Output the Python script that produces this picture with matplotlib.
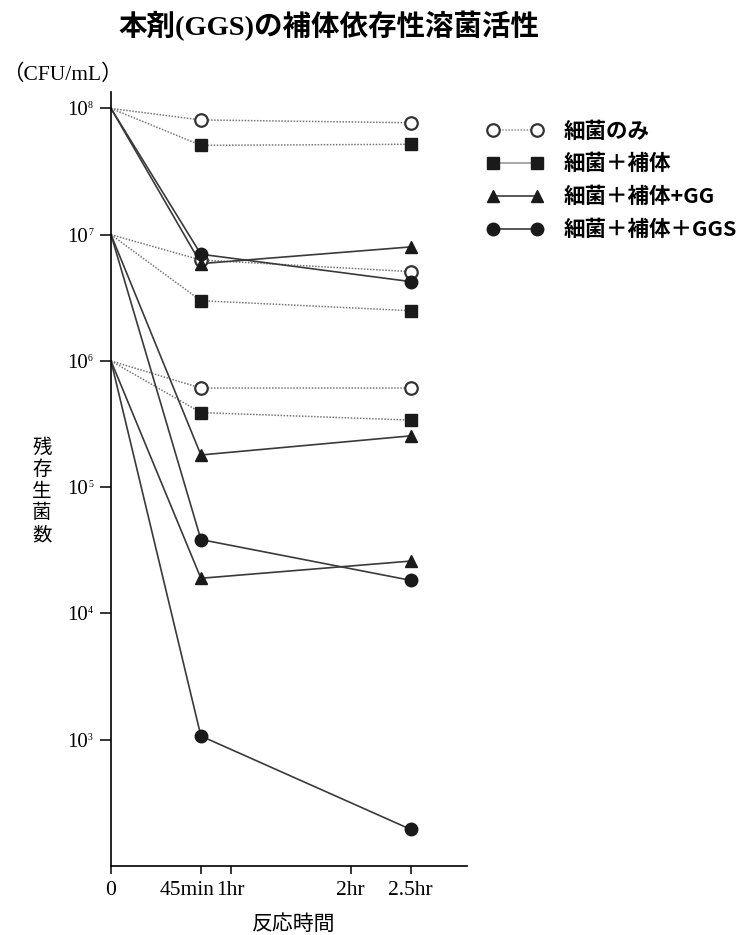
import numpy as np
import matplotlib
matplotlib.use("Agg")
import matplotlib.pyplot as plt
from matplotlib.lines import Line2D
from matplotlib.transforms import ScaledTranslation

plt.rcParams['font.family'] = ['Liberation Serif', 'Noto Sans CJK JP']

# reaction time (hr) and surviving counts (CFU/mL) for three starting inocula
times = [0, 0.75, 2.5]
start_counts = [1e8, 1e7, 1e6]
bacteria_only = [[8.1e7, 7.7e7], [6.3e6, 5.1e6], [6.1e5, 6.1e5]]
plus_complement = [[5.1e7, 5.2e7], [3.0e6, 2.5e6], [3.9e5, 3.4e5]]
plus_gg = [[5.9e6, 8.0e6], [1.8e5, 2.55e5], [1.9e4, 2.6e4]]
plus_ggs = [[7.0e6, 4.25e6], [3.85e4, 1.83e4], [1.07e3, 1.95e2]]

series_labels = ['細菌のみ', '細菌＋補体', '細菌＋補体+GG', '細菌＋補体＋GGS']
xtick_pos = [0, 0.75, 1, 2, 2.5]
xtick_labels = ['0', '45min', '1hr', '2hr', '2.5hr']
ytick_exp = [3, 4, 5, 6, 7, 8]

fig = plt.figure(figsize=(7.46, 9.35), dpi=100)
ax = fig.add_axes([111/746, 1 - 866/935, 356/746, 774/935])

styles = [
    dict(marker='o', mfc='white', mec='#333333', mew=1.6, color='#777777', ls=(0, (1, 1)), lw=1.1),
    dict(marker='s', mfc='#1a1a1a', mec='#1a1a1a', color='#777777', ls=(0, (1, 1)), lw=1.1),
    dict(marker='^', mfc='#1a1a1a', mec='#1a1a1a', color='#3a3a3a', ls='-', lw=1.2),
    dict(marker='o', mfc='#1a1a1a', mec='#1a1a1a', color='#3a3a3a', ls='-', lw=1.2),
]
all_series = [bacteria_only, plus_complement, plus_gg, plus_ggs]

for st, series in zip(styles, all_series):
    for start, vals in zip(start_counts, series):
        y = [start] + vals
        # line from the start point, markers only at 45min and 2.5hr
        ax.plot(times, y, color=st['color'], ls=st['ls'], lw=st['lw'], zorder=2)
        ax.plot(times[1:], vals, ls='none', marker=st['marker'], ms=9,
                mfc=st['mfc'], mec=st['mec'], mew=st.get('mew', 1), zorder=3)

ax.set_yscale('log')
ax.set_ylim(1e2, 10 ** 8.13)
ax.set_xlim(0, 2.97)
ax.set_yticks([10.0 ** e for e in ytick_exp])
ax.set_yticklabels(['10'] * len(ytick_exp), fontsize=15)
ax.yaxis.set_minor_locator(matplotlib.ticker.NullLocator())
for e in ytick_exp:
    ax.annotate(str(e), xy=(0, 10.0 ** e), xycoords=ax.get_yaxis_transform(),
                xytext=(-23, 7), textcoords='offset pixels', ha='left', va='top',
                fontsize=7, annotation_clip=False)
ax.set_xticks(xtick_pos)
ax.set_xticklabels(xtick_labels, fontsize=15.5)
ax.tick_params(axis='y', length=8, width=1.1, pad=8.5)
ax.tick_params(axis='x', length=6, width=1.1, pad=5)
lbl = ax.get_xticklabels()[1]
lbl.set_transform(lbl.get_transform() + ScaledTranslation(-0.14, 0, fig.dpi_scale_trans))

for s in ['top', 'right']:
    ax.spines[s].set_visible(False)
for s in ['left', 'bottom']:
    ax.spines[s].set_linewidth(1.2)

# legend
handles = [
    Line2D([], [], marker='o', mfc='white', mec='#333333', mew=1.6, ms=9, color='#909090', ls=(0, (1, 1)), lw=1.1),
    Line2D([], [], marker='s', mfc='#1a1a1a', mec='#1a1a1a', ms=9, color='#909090', ls='-', lw=1.1),
    Line2D([], [], marker='^', mfc='#1a1a1a', mec='#1a1a1a', ms=9, color='#3a3a3a', ls='-', lw=1.2),
    Line2D([], [], marker='o', mfc='#1a1a1a', mec='#1a1a1a', ms=9, color='#3a3a3a', ls='-', lw=1.2),
]
fig.legend(handles, series_labels, loc='upper left', bbox_to_anchor=(478/746, 1 - 112/935),
           frameon=False, numpoints=2, handlelength=2.65, handletextpad=0.92,
           labelspacing=0.55, borderaxespad=0,
           prop=dict(family=['Noto Sans CJK JP'], weight='bold', size=15.5))

fig.text(2/746, 1 - 75/935, '（CFU/mL）', fontsize=15.5, va='center', ha='left',
         family=['Liberation Serif', 'Noto Sans CJK JP'])
fig.text(42/746, 1 - 491/935, '残\n存\n生\n菌\n数', fontsize=14, va='center', ha='center',
         linespacing=1.05, family=['Noto Sans CJK JP'])
fig.text(294/746, 1 - 924/935, '反応時間', fontsize=15, va='center', ha='center',
         family=['Noto Sans CJK JP'])
fig.text(329/746, 1 - 26/935, '本剤(GGS)の補体依存性溶菌活性', fontsize=20.5, weight='bold',
         va='center', ha='center', family=['Liberation Serif', 'Noto Sans CJK JP'])

fig.savefig('out.png', dpi=100)
